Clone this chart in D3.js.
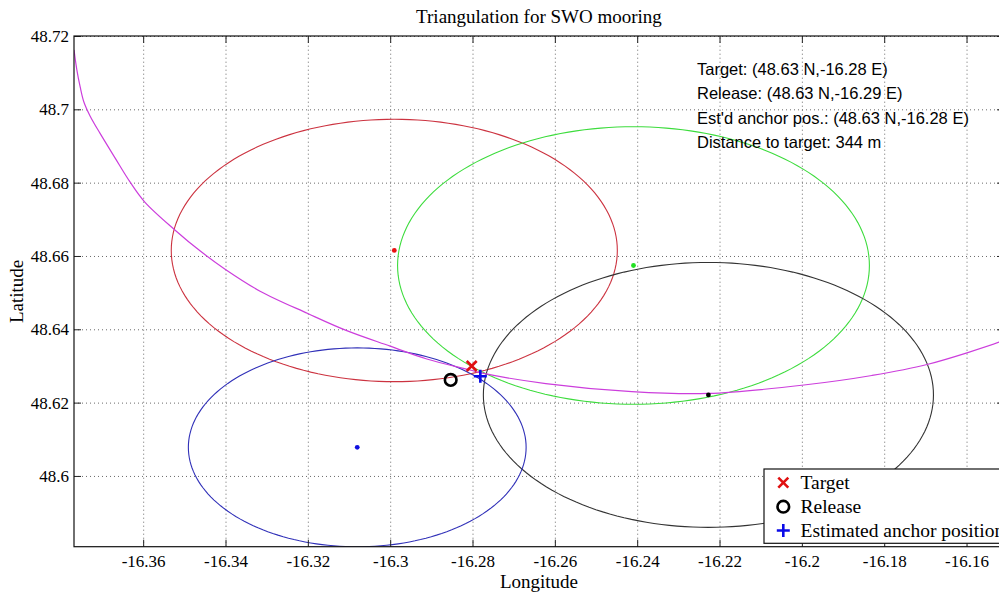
<!DOCTYPE html>
<html>
<head>
<meta charset="utf-8">
<script src="https://cdn.jsdelivr.net/npm/d3@7"></script>
<style>
  html, body { margin: 0; padding: 0; background: #fff; }
  svg { display: block; }
  .axis text { font-family: 'Liberation Serif', 'Times New Roman', serif; font-size: 17px; fill: #000; }
</style>
</head>
<body>
<svg id="chart" width="999" height="599"></svg>
<script>
// Acoustic ranging stations: centre positions and slant ranges (m)
const stationNames = ["Station 1", "Station 2", "Station 3", "Station 4"];
const stationLon = [-16.2990, -16.2409, -16.2227, -16.3080];
const stationLat = [48.6615, 48.6574, 48.6221, 48.6078];
const stationRange = [3979, 4209, 4018, 3016];
const stationPalette = ["#cc3340", "#3ddc3d", "#333333", "#3030b8"];
const dotPalette = ["#e81010", "#22e022", "#000000", "#1010e0"];

// Hyperbolic line of position (lon, lat)
const lopLon = [-16.3768, -16.3761, -16.3753, -16.3744, -16.3729, -16.3705, -16.3668,
  -16.3632, -16.3596, -16.3523, -16.3462, -16.3401, -16.3316, -16.3200, -16.3107,
  -16.3000, -16.2911, -16.2806, -16.2779, -16.2622, -16.2413, -16.2228, -16.1995,
  -16.1830, -16.1696, -16.1521, -16.1509];
const lopLat = [48.7162, 48.7107, 48.7061, 48.7020, 48.6982, 48.6935, 48.6867,
  48.6802, 48.6747, 48.6671, 48.6614, 48.6564, 48.6504, 48.6443, 48.6397,
  48.6354, 48.6319, 48.6289, 48.6281, 48.6252, 48.6230, 48.6225, 48.6248,
  48.6274, 48.6304, 48.6365, 48.6371];

// Positions
const targetPos = { lon: -16.2802, lat: 48.6300 };
const releasePos = { lon: -16.2853, lat: 48.6262 };
const anchorPos = { lon: -16.2781, lat: 48.6272 };

const infoLines = [
  "Target: (48.63 N,-16.28 E)",
  "Release: (48.63 N,-16.29 E)",
  "Est'd anchor pos.: (48.63 N,-16.28 E)",
  "Distance to target: 344 m"
];
const legendLabels = ["Target", "Release", "Estimated anchor position"];

const xTicks = [-16.36, -16.34, -16.32, -16.30, -16.28, -16.26, -16.24, -16.22, -16.20, -16.18, -16.16];
const yTicks = [48.60, 48.62, 48.64, 48.66, 48.68, 48.70, 48.72];
const xDomain = [-16.3768, -16.1509];
const yDomain = [48.5807, 48.72];

// Layout
const pL = 74, pT = 36, pR = 1004, pB = 546.7;
const serif = "'Liberation Serif', 'Times New Roman', serif";
const sans = "'Liberation Sans', Arial, sans-serif";

const svg = d3.select("#chart");
const x = d3.scaleLinear().domain(xDomain).range([pL, pR]);
const y = d3.scaleLinear().domain(yDomain).range([pB, pT]);
const fmt = v => String(+v.toFixed(2));

svg.append("defs").append("clipPath").attr("id", "plotClip")
  .append("rect").attr("x", pL).attr("y", pT)
  .attr("width", pR - pL).attr("height", pB - pT);

// Dotted grid
const grid = svg.append("g").attr("class", "grid");
grid.append("g").attr("transform", `translate(0,${pB})`)
  .call(d3.axisBottom(x).tickValues(xTicks).tickSize(-(pB - pT)).tickFormat(""));
grid.append("g").attr("transform", `translate(${pL},0)`)
  .call(d3.axisLeft(y).tickValues(yTicks).tickSize(-(pR - pL)).tickFormat(""));
grid.selectAll(".domain").remove();
grid.selectAll("line").attr("stroke", "#6a6a6a").attr("stroke-width", 1)
  .attr("stroke-dasharray", "1,3");

const plot = svg.append("g").attr("clip-path", "url(#plotClip)");

// Range circles (constant metres, so ellipses in lon/lat)
const M_PER_DEG = 111195;
function rangeRing(lon0, lat0, r) {
  const dLat = r / M_PER_DEG;
  const dLon = dLat / Math.cos(lat0 * Math.PI / 180);
  return d3.range(0, 361, 2).map(a => {
    const t = a * Math.PI / 180;
    return [lon0 + dLon * Math.cos(t), lat0 + dLat * Math.sin(t)];
  });
}
const ringLine = d3.line().x(d => x(d[0])).y(d => y(d[1]));
stationNames.forEach((name, i) => {
  plot.append("path")
    .datum(rangeRing(stationLon[i], stationLat[i], stationRange[i]))
    .attr("d", ringLine)
    .attr("fill", "none")
    .attr("stroke", stationPalette[i])
    .attr("stroke-width", 1.1);
});

// Line of position
plot.append("path")
  .datum(lopLon.map((lon, i) => [lon, lopLat[i]]))
  .attr("d", d3.line().x(d => x(d[0])).y(d => y(d[1])).curve(d3.curveCatmullRom.alpha(0.5)))
  .attr("fill", "none")
  .attr("stroke", "#cc3edc")
  .attr("stroke-width", 1.2);

// Station centre dots
stationNames.forEach((name, i) => {
  plot.append("circle")
    .attr("cx", x(stationLon[i])).attr("cy", y(stationLat[i]))
    .attr("r", 2.4).attr("fill", dotPalette[i]);
});

// Marker shapes
function drawCross(g, cx, cy, s) {
  g.append("path").attr("d", `M${cx - s},${cy - s}L${cx + s},${cy + s}M${cx - s},${cy + s}L${cx + s},${cy - s}`)
    .attr("stroke", "#e01010").attr("stroke-width", 2.6).attr("fill", "none");
}
function drawRing(g, cx, cy, r) {
  g.append("circle").attr("cx", cx).attr("cy", cy).attr("r", r)
    .attr("stroke", "#000").attr("stroke-width", 2.6).attr("fill", "none");
}
function drawPlus(g, cx, cy, s) {
  g.append("path").attr("d", `M${cx - s},${cy}L${cx + s},${cy}M${cx},${cy - s}L${cx},${cy + s}`)
    .attr("stroke", "#0a0ae8").attr("stroke-width", 2.6).attr("fill", "none");
}
drawCross(plot, x(targetPos.lon), y(targetPos.lat), 5);
drawRing(plot, x(releasePos.lon), y(releasePos.lat), 5.8);
drawPlus(plot, x(anchorPos.lon), y(anchorPos.lat), 6.5);

// Axes with inward ticks
function axisStyle(g) {
  g.attr("class", "axis").attr("font-family", serif).attr("font-size", 17);
  g.select(".domain").remove();
  g.selectAll(".tick line").attr("stroke", "#222").attr("stroke-width", 1);
  g.selectAll(".tick text").attr("fill", "#000")
    .attr("font-family", serif).attr("font-size", 17);
}
svg.append("g").attr("transform", `translate(0,${pB})`)
  .call(d3.axisBottom(x).tickValues(xTicks).tickSize(-7).tickPadding(8).tickFormat(fmt))
  .call(axisStyle);
svg.append("g").attr("transform", `translate(0,${pT})`)
  .call(d3.axisTop(x).tickValues(xTicks).tickSize(-7).tickFormat(""))
  .call(axisStyle);
svg.append("g").attr("transform", `translate(${pL},0)`)
  .call(d3.axisLeft(y).tickValues(yTicks).tickSize(-7).tickPadding(5).tickFormat(fmt))
  .call(axisStyle);
svg.append("g").attr("transform", `translate(${pR},0)`)
  .call(d3.axisRight(y).tickValues(yTicks).tickSize(-7).tickFormat(""))
  .call(axisStyle);

// Axes box
svg.append("rect").attr("x", pL).attr("y", pT)
  .attr("width", pR - pL).attr("height", pB - pT)
  .attr("fill", "none").attr("stroke", "#111").attr("stroke-width", 1.2);

// Titles
svg.append("text").attr("x", (pL + pR) / 2).attr("y", 23)
  .attr("text-anchor", "middle").style("font-family", serif).style("font-size", "19px")
  .text("Triangulation for SWO mooring");
svg.append("text").attr("x", (pL + pR) / 2).attr("y", 588)
  .attr("text-anchor", "middle").style("font-family", serif).style("font-size", "19px")
  .text("Longitude");
svg.append("text").attr("transform", `translate(23,${(pT + pB) / 2}) rotate(-90)`)
  .attr("text-anchor", "middle").style("font-family", serif).style("font-size", "19px")
  .text("Latitude");

// Position summary
svg.append("g").selectAll("text").data(infoLines).join("text")
  .attr("x", 697).attr("y", (d, i) => 74.5 + i * 24.6)
  .style("font-family", sans).style("font-size", "16.5px").attr("fill", "#000")
  .text(d => d);

// Legend
const lg = svg.append("g").attr("transform", "translate(764,469)");
lg.append("rect").attr("x", 0).attr("y", 0).attr("width", 250).attr("height", 74.3)
  .attr("fill", "#fff").attr("stroke", "#111").attr("stroke-width", 1.2);
const rowY = [13.7, 37.7, 61.5];
drawCross(lg, 19.3, rowY[0], 5);
drawRing(lg, 19.3, rowY[1], 5.8);
drawPlus(lg, 19.3, rowY[2], 6.5);
lg.selectAll("text.lbl").data(legendLabels).join("text").attr("class", "lbl")
  .attr("x", 36.5).attr("y", (d, i) => rowY[i] + 6)
  .style("font-family", serif).style("font-size", "19.5px").attr("fill", "#000")
  .text(d => d);
</script>
</body>
</html>
